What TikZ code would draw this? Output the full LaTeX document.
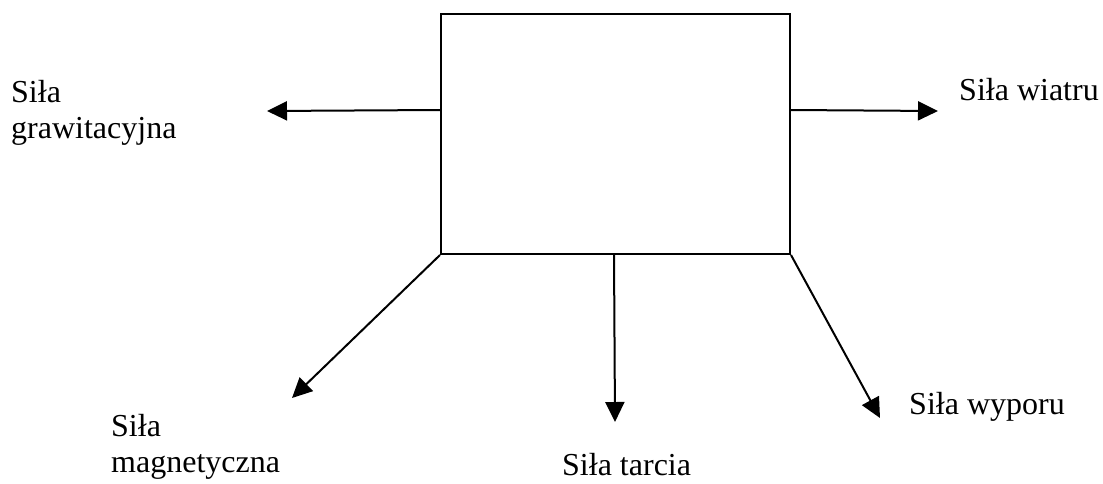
\documentclass[tikz,border=0pt]{standalone}
\usepackage{fontspec}
\setmainfont{Liberation Serif}
\usetikzlibrary{arrows.meta,calc}
\begin{document}
\begin{tikzpicture}[x=1pt,y=-1pt,
  lbl/.style={anchor=base west,inner sep=0pt,align=left,font=\fontsize{32}{35.5}\selectfont},
  force/.style={line width=2pt,-{Triangle[length=20pt,width=19pt]}},
  body/.style={draw,line width=2pt,minimum width=349pt,minimum height=240pt,inner sep=0pt}]
\useasboundingbox (0,0) rectangle (1103,483);
\node[body] (box) at (615.5,134) {};
\coordinate (tgrav) at (267,111);
\coordinate (twind) at (938,111);
\coordinate (tmag) at (292,398);
\coordinate (tfric) at (615,422);
\coordinate (tbuoy) at (880,418);
\draw[force] ($(box.north west)+(0,97)$) -- (tgrav);
\draw[force] ($(box.north east)+(0,97)$) -- (twind);
\draw[force] (box.south west) -- (tmag);
\draw[force] ($(box.south west)+(174,0)$) -- (tfric);
\draw[force] (box.south east) -- (tbuoy);
\node[lbl] (lgrav) at (11,138) {Siła\\grawitacyjna};
\node[lbl] (lwind) at (959,100) {Siła wiatru};
\node[lbl] (lbuoy) at (909,414) {Siła wyporu};
\node[lbl] (lfric) at (562,475) {Siła tarcia};
\node[lbl] (lmag) at (111,472) {Siła\\magnetyczna};
\end{tikzpicture}
\end{document}
